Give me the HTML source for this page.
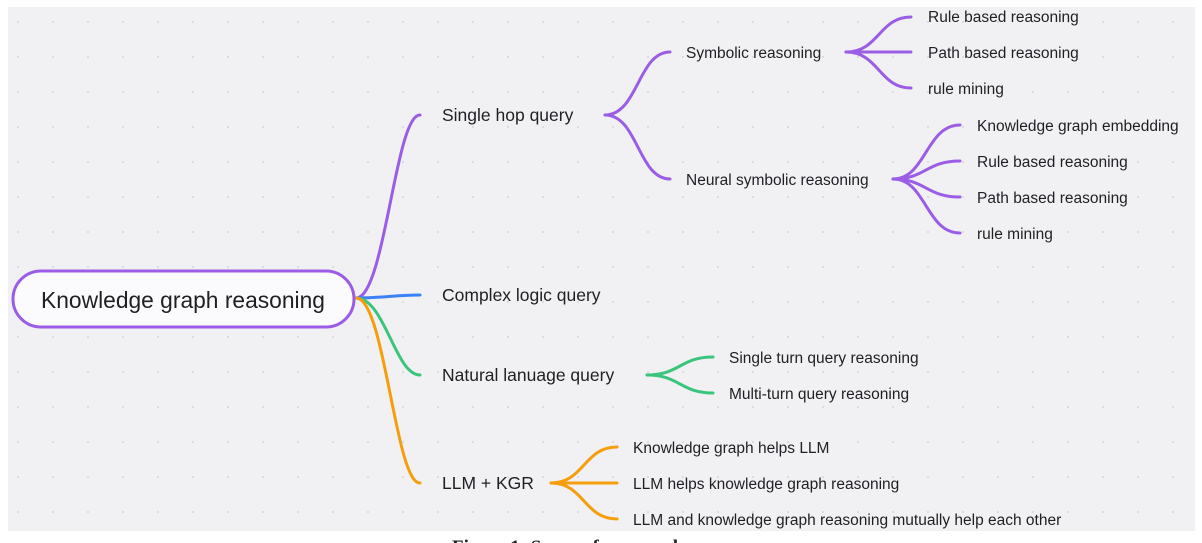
<!DOCTYPE html>
<html><head><meta charset="utf-8"><style>
html,body{margin:0;padding:0;background:#fff;width:1202px;height:543px;overflow:hidden}
svg{display:block}
text{font-family:"Liberation Sans",sans-serif;fill:#1f1f24}
</style></head><body>
<svg width="1202" height="543" viewBox="0 0 1202 543">
<defs><pattern id="d" width="35" height="35" patternUnits="userSpaceOnUse" x="8" y="0"><circle cx="10" cy="22" r="1" fill="#d4d4da"/></pattern></defs>
<rect x="8" y="7" width="1187" height="524" fill="#f1f1f4"/>
<rect x="8" y="7" width="1187" height="524" fill="url(#d)"/>
<g fill="none" stroke-width="3" stroke-linecap="round">
<path d="M356 298 C385 298,395 115,420 115" stroke="#9b5de5"/>
<path d="M356 298 C385 298,395 295,420 295" stroke="#3b82f6"/>
<path d="M356 298 C385 298,395 375,420 375" stroke="#3cc47c"/>
<path d="M356 298 C385 298,395 483,420 483" stroke="#f59e0b"/>
<g stroke="#9b5de5">
<path d="M605 115 C638 115,638 52,670 52"/>
<path d="M605 115 C638 115,638 179,670 179"/>
<path d="M846 52 C879 52,879 17,911 17"/>
<path d="M846 52 L911 52"/>
<path d="M846 52 C879 52,879 88,911 88"/>
<path d="M893 179 C926 179,926 125,960 125"/>
<path d="M893 179 C926 179,926 161,960 161"/>
<path d="M893 179 C926 179,926 197,960 197"/>
<path d="M893 179 C926 179,926 233,960 233"/>
</g>
<g stroke="#3cc47c">
<path d="M647 375 C680 375,680 357,713 357"/>
<path d="M647 375 C680 375,680 393,713 393"/>
</g>
<g stroke="#f59e0b">
<path d="M551 483 C584 483,584 447,617 447"/>
<path d="M551 483 L617 483"/>
<path d="M551 483 C584 483,584 519,617 519"/>
</g>
</g>
<rect x="13" y="271" width="341" height="56" rx="28" fill="#fbfbfd" stroke="#9b5de5" stroke-width="3"/>
<text x="183" y="308" font-size="22.8" text-anchor="middle">Knowledge graph reasoning</text>
<g font-size="17.5">
<text x="442" y="121">Single hop query</text>
<text x="442" y="301">Complex logic query</text>
<text x="442" y="381">Natural lanuage query</text>
<text x="442" y="489">LLM + KGR</text>
</g>
<g font-size="15.5">
<text x="686" y="58">Symbolic reasoning</text>
<text x="686" y="185">Neural symbolic reasoning</text>
<text x="928" y="22">Rule based reasoning</text>
<text x="928" y="58">Path based reasoning</text>
<text x="928" y="94">rule mining</text>
<text x="977" y="131">Knowledge graph embedding</text>
<text x="977" y="167">Rule based reasoning</text>
<text x="977" y="203">Path based reasoning</text>
<text x="977" y="239">rule mining</text>
<text x="729" y="363">Single turn query reasoning</text>
<text x="729" y="399">Multi-turn query reasoning</text>
<text x="633" y="453">Knowledge graph helps LLM</text>
<text x="633" y="489">LLM helps knowledge graph reasoning</text>
<text x="633" y="525">LLM and knowledge graph reasoning mutually help each other</text>
</g>
<text x="452" y="553" font-size="19" font-weight="bold" style="font-family:'Liberation Serif',serif">Figure 1: Survey framework</text>
</svg>
</body></html>
